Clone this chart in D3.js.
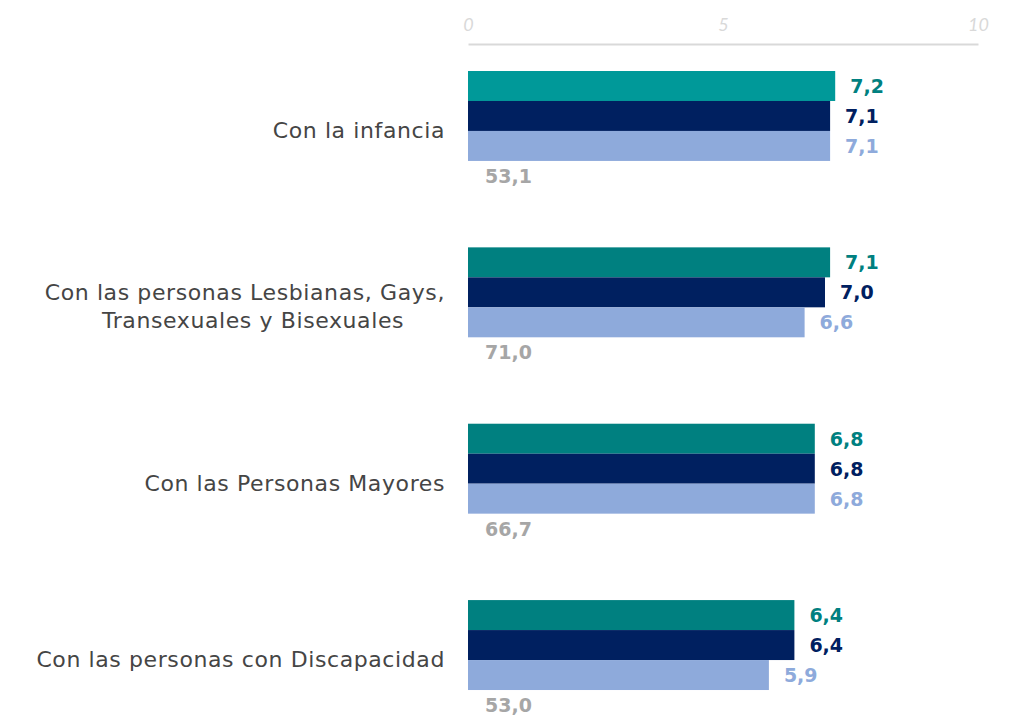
<!DOCTYPE html>
<html lang="es">
<head>
  <meta charset="UTF-8">
  <title>Valoraciones por colectivo</title>
  <script src="https://d3js.org/d3.v7.min.js"></script>
  <style>
    body {
      margin: 0;
      background: #fff;
      font-family: "DejaVu Sans", sans-serif;
    }
    svg { display: block; }
    .cat-label {
      font-size: 22px;
      fill: #454545;
      text-anchor: end;
      letter-spacing: 0.6px;
    }
    .val-label {
      font-size: 19px;
      font-weight: bold;
      dominant-baseline: central;
    }
    .axis text {
      font-family: "Lato", sans-serif;
      font-size: 18px;
      font-style: italic;
      fill: #d9d9d9;
    }
    .axis path { stroke: #d9d9d9; stroke-width: 2px; }
  </style>
</head>
<body>
  <svg width="1015" height="721"></svg>

  <script>
    // categories (one or two lines each)
    const categories = [
      ["Con la infancia"],
      ["Con las personas Lesbianas, Gays,", "Transexuales y Bisexuales"],
      ["Con las Personas Mayores"],
      ["Con las personas con Discapacidad"]
    ];
    const series = ["s1", "s2", "s3", "pct"];
    const serie1 = [7.2, 7.1, 6.8, 6.4];
    const serie2 = [7.1, 7.0, 6.8, 6.4];
    const serie3 = [7.1, 6.6, 6.8, 5.9];
    const porcentaje = [53.1, 71.0, 66.7, 53.0];
    const ticks = [0, 5, 10];

    const barColors = { s1: "#008080", s2: "#002060", s3: "#8eaadb" };
    const labelColors = { s1: "#008080", s2: "#002060", s3: "#8eaadb", pct: "#a6a6a6" };

    const svg = d3.select("svg");
    const fmt = v => d3.format(".1f")(v).replace(".", ",");

    const x = d3.scaleLinear().domain([0, 10]).range([468, 978]);
    const y = d3.scaleBand()
      .domain(d3.range(categories.length))
      .range([71, 720])
      .paddingInner(0.32)
      .paddingOuter(0);
    const yRow = d3.scaleBand().domain(series).range([0, y.bandwidth()]);

    // axis on top
    svg.append("g")
      .attr("class", "axis")
      .attr("transform", "translate(0,44)")
      .call(d3.axisTop(x).tickValues(ticks).tickSize(0).tickPadding(13))
      .call(g => g.selectAll("text").attr("font-family", null).attr("font-size", null));

    const rows = categories.map((c, i) => ({
      i,
      label: c,
      s1: serie1[i], s2: serie2[i], s3: serie3[i], pct: porcentaje[i]
    }));

    const group = svg.selectAll(".grp")
      .data(rows)
      .enter().append("g")
      .attr("class", "grp")
      .attr("transform", d => `translate(0,${y(d.i)})`);

    // bars
    group.selectAll("rect")
      .data(d => ["s1", "s2", "s3"].map(k => ({ k, v: d[k], i: d.i })))
      .enter().append("rect")
      .attr("x", x(0))
      .attr("y", d => yRow(d.k))
      .attr("width", d => x(d.v) - x(0))
      .attr("height", yRow.bandwidth())
      .attr("fill", d => (d.k === "s1" && d.i === 0) ? "#009999" : barColors[d.k]);

    // value labels
    group.selectAll(".val-label")
      .data(d => series.map(k => ({ k, v: d[k] })))
      .enter().append("text")
      .attr("class", "val-label")
      .attr("x", d => d.k === "pct" ? x(0) + 17 : x(d.v) + 15)
      .attr("y", d => yRow(d.k) + yRow.bandwidth() / 2)
      .attr("fill", d => labelColors[d.k])
      .text(d => fmt(d.v));

    // category labels
    group.append("text")
      .attr("class", "cat-label")
      .attr("y", y.bandwidth() / 2)
      .each(function(d) {
        const t = d3.select(this);
        const n = d.label.length;
        d.label.forEach((line, j) => {
          t.append("tspan")
            .attr("x", n > 1 && j === 1 ? 253 : 445)
            .attr("dy", j === 0 ? ((1 - n) * 14 + 7) + "px" : "28px")
            .attr("text-anchor", n > 1 && j === 1 ? "middle" : null)
            .text(line);
        });
      });
  </script>
</body>
</html>
